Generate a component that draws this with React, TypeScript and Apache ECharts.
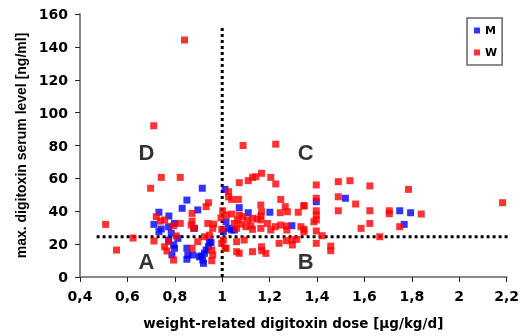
import React, { useEffect, useRef } from "react";
import * as echarts from "echarts";

const seriesNames = ["M", "W"];
const xTicks = { min: 0.4, max: 2.2, interval: 0.2 };
const yTicks = { min: 0, max: 160, interval: 20 };

const mData: number[][] = [
  [0.916, 54], [1.012, 53.3], [0.851, 46.8], [0.831, 41.8], [0.897, 40.8], [0.733, 39.4],
  [0.775, 37.1], [0.712, 32], [0.743, 29.2], [0.733, 27.6], [0.799, 32.6], [0.774, 30.6],
  [0.785, 26.6], [0.813, 23.5], [0.774, 22.5], [0.795, 19.5], [0.799, 17.5], [0.788, 13.4],
  [0.851, 17.5], [0.855, 13.4], [0.851, 10.8], [0.876, 13.4], [0.883, 29.6], [0.904, 12.3],
  [0.918, 10.3], [0.925, 14.4], [0.911, 12.8], [0.921, 8.3], [0.942, 18.4], [0.953, 20.9],
  [0.946, 21.5], [0.932, 16.4], [1.072, 42.2], [1.11, 39.1], [1.201, 39.4], [1.294, 31.2],
  [1.016, 33.6], [1.026, 29.6], [1.04, 28.6], [1.051, 28.6], [1.005, 27.6], [1.397, 45.8],
  [1.52, 47.9], [1.749, 40.3], [1.768, 32], [1.795, 39.1],
];

const wData: number[][] = [
  [0.841, 144.2], [0.711, 92], [1.088, 80], [1.226, 80.8],
  [0.743, 60.6], [0.823, 60.6], [0.698, 54], [0.508, 32], [0.624, 23.7], [0.554, 16.4],
  [0.722, 36.7], [0.739, 34], [0.757, 34.7], [0.795, 31.2], [0.823, 32.6], [0.873, 38.7],
  [0.873, 34], [0.869, 31.6], [0.879, 29.6], [0.712, 21.9], [0.774, 21.5], [0.806, 25],
  [0.757, 18.4], [0.767, 15.8], [0.795, 10.3], [0.873, 17.5], [0.897, 21.5], [0.925, 24.5],
  [0.942, 45.2], [0.932, 42.8], [0.956, 16.4], [0.96, 13.4], [0.956, 9.9], [1.012, 17.5],
  [1.061, 15.4], [1.072, 14.4], [1.128, 15.4], [1.166, 18.4], [1.184, 14.4], [1.24, 20.5],
  [1.296, 19.5], [1.458, 18.8], [1.458, 16], [1.093, 22.5],
  [1.072, 57.4], [1.11, 58.6], [1.128, 60.6], [1.142, 61], [1.166, 63.1], [1.205, 60.6],
  [1.226, 56.6], [1.027, 48.8], [1.04, 47.2], [1.068, 47.2], [1.027, 51.9], [1.002, 40.3],
  [1.016, 37.7], [1.04, 38.3], [1.072, 37.7], [1.065, 34.7], [1.163, 43.8], [1.166, 39.7],
  [1.163, 37.1], [1.247, 47.2], [1.266, 42.8], [1.275, 39.7], [1.245, 39.1], [1.321, 39.4],
  [1.345, 43.4], [1.086, 36.7], [1.107, 34.7], [1.128, 35.7], [1.149, 35.3], [1.163, 34.7],
  [0.939, 32.6], [0.96, 29.6], [0.964, 32.2], [1.051, 32.6], [1.061, 29.6], [1.079, 32.2],
  [1.1, 30.6], [1.121, 31.2], [1.128, 29], [1.163, 29.6], [1.191, 32.6], [1.205, 28.6],
  [1.224, 30.6], [1.247, 31.6], [1.271, 31], [1.273, 28.6], [1.332, 30.6], [1.345, 29],
  [1.005, 22.5], [1.016, 17.5], [1.061, 21.5], [1.167, 16], [1.271, 22.1], [1.294, 22.5],
  [1.315, 22.9], [0.946, 25.5], [0.995, 36], [0.998, 29], [0.998, 20.5],
  [1.397, 56], [1.49, 58], [1.539, 58.6], [1.623, 55.4], [1.397, 47.9], [1.49, 48.8],
  [1.345, 43.2], [1.563, 44.4], [1.397, 40.3], [1.397, 37.7], [1.397, 34.7], [1.387, 33.6],
  [1.49, 40.3], [1.623, 40.3], [1.705, 40.3], [1.705, 38.5], [1.623, 32.6], [1.586, 29.6],
  [1.749, 30.6], [1.345, 27.6], [1.397, 28], [1.422, 25.1], [1.397, 20.5], [1.665, 24.5],
  [1.786, 53.3], [1.84, 38.3], [2.183, 45.2],
];

const vLine: number[][] = [[1, 0], [1, 152]];
const hLine: number[][] = [[0.47, 24.5], [2.26, 24.5]];
const quadrantLabels: { name: string; value: number[] }[] = [
  { name: "D", value: [0.68, 76] },
  { name: "C", value: [1.352, 76] },
  { name: "A", value: [0.68, 9.3] },
  { name: "B", value: [1.352, 9.3] },
];

const FONT = "'Liberation Sans', Arial, sans-serif";
const WIDE = "'DejaVu Sans', 'Liberation Sans', sans-serif";

export default function App() {
  const ref = useRef<HTMLDivElement>(null);
  useEffect(() => {
    if (!ref.current) return;
    const chart = echarts.init(ref.current, undefined, { renderer: "svg" });
    const dotted = { color: "#000", width: 3, type: [3, 3] as number[] };
    chart.setOption({
      animation: false,
      textStyle: { fontFamily: FONT },
      grid: { left: 80, right: 14, top: 14, bottom: 59 },
      legend: {
        data: seriesNames,
        orient: "vertical",
        left: 467,
        top: 18,
        padding: [6, 5, 6, 7],
        itemWidth: 6,
        itemHeight: 6,
        itemGap: 9,
        borderColor: "#666",
        borderWidth: 1.5,
        icon: "rect",
        textStyle: { fontFamily: WIDE, fontWeight: "bold", fontSize: 11, lineHeight: 13, color: "#000" },
      },
      xAxis: {
        type: "value",
        min: xTicks.min,
        max: xTicks.max,
        interval: xTicks.interval,
        name: "weight-related digitoxin dose [µg/kg/d]",
        nameLocation: "middle",
        nameGap: 39,
        nameTextStyle: { fontFamily: WIDE, fontWeight: "bold", fontSize: 13.5, color: "#000" },
        axisLine: { onZero: false, lineStyle: { color: "#888", width: 2 } },
        axisTick: { length: 5, lineStyle: { color: "#222", width: 1 } },
        axisLabel: {
          margin: 12,
          fontFamily: WIDE,
          fontWeight: "bold",
          fontSize: 14,
          color: "#000",
          formatter: (v: number) => String(+v.toFixed(1)).replace(".", ","),
        },
        splitLine: { show: false },
      },
      yAxis: {
        type: "value",
        min: yTicks.min,
        max: yTicks.max,
        interval: yTicks.interval,
        name: "max. digitoxin serum level [ng/ml]",
        nameLocation: "middle",
        nameGap: 48,
        nameTextStyle: { fontFamily: FONT, fontWeight: "bold", fontSize: 14, color: "#000" },
        axisLine: { show: true, lineStyle: { color: "#888", width: 2 } },
        axisTick: { show: true, length: 5, lineStyle: { color: "#222", width: 1 } },
        axisLabel: { margin: 12, fontFamily: WIDE, fontWeight: "bold", fontSize: 14, color: "#000" },
        splitLine: { show: false },
      },
      series: [
        { type: "line", data: vLine, symbol: "none", clip: false, silent: true, lineStyle: dotted, z: 1 },
        { type: "line", data: hLine, symbol: "none", clip: false, silent: true, lineStyle: dotted, z: 1 },
        {
          name: "M",
          type: "scatter",
          data: mData,
          symbol: "rect",
          symbolSize: 7,
          itemStyle: { color: "#0000ff" },
          z: 3,
        },
        {
          name: "W",
          type: "scatter",
          data: wData,
          symbol: "rect",
          symbolSize: 7,
          itemStyle: { color: "#ff0000" },
          z: 4,
        },
        {
          type: "scatter",
          data: quadrantLabels,
          symbolSize: 0,
          silent: true,
          label: {
            show: true,
            position: "inside",
            formatter: (p: any) => p.name,
            fontFamily: FONT,
            fontWeight: "bold",
            fontSize: 22,
            color: "#000",
          },
          z: 5,
        },
      ],
    });
    return () => chart.dispose();
  }, []);
  return <div ref={ref} style={{ position: "fixed", left: 0, top: 0, width: 522, height: 336 }} />;
}
